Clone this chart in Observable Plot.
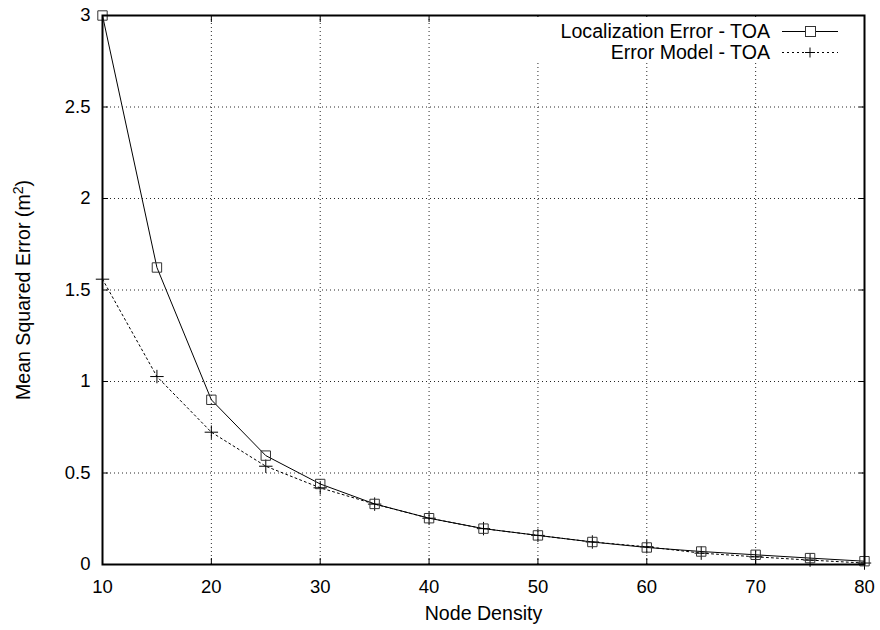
<!DOCTYPE html>
<html>
<head>
<meta charset="utf-8">
<script src="https://cdn.jsdelivr.net/npm/d3@7"></script>
<script src="https://cdn.jsdelivr.net/npm/@observablehq/plot@0.6"></script>
<style>
  html, body { margin: 0; padding: 0; background: #fff; }
  #wrap { position: relative; width: 880px; height: 630px; font-family: "Liberation Sans", Arial, Helvetica, sans-serif; }
  #legend { position: absolute; left: 480px; top: 17px; width: 383px; height: 46px; background: #fff; }
  .row { position: absolute; right: 0; height: 21px; display: flex; align-items: center; font-size: 19.6px; color: #000; }
  .row span { margin-right: 12px; white-space: nowrap; }
</style>
</head>
<body>
<div id="wrap"></div>
<script>
// Data
const density = [10, 15, 20, 25, 30, 35, 40, 45, 50, 55, 60, 65, 70, 75, 80];
const locError = [3.0, 1.623, 0.90, 0.595, 0.44, 0.331, 0.253, 0.196, 0.159, 0.123, 0.093, 0.071, 0.053, 0.035, 0.018];
const modelError = [1.559, 1.027, 0.723, 0.537, 0.419, 0.33, 0.253, 0.196, 0.159, 0.123, 0.097, 0.062, 0.042, 0.024, 0.008];
const xTicks = [10, 20, 30, 40, 50, 60, 70, 80];
const yTicks = [0, 0.5, 1, 1.5, 2, 2.5, 3];
const seriesNames = ["Localization Error - TOA", "Error Model - TOA"];
const xLabel = "Node Density";
const yLabelMain = "Mean Squared Error (m";
const yLabelSup = "2";
const yLabelEnd = ")";

const locData = density.map((d, i) => ({x: d, y: locError[i]}));
const modelData = density.map((d, i) => ({x: d, y: modelError[i]}));

const tickFont = "18.5px";
const labelFont = "19.6px";
const font = '"Liberation Sans", Arial, Helvetica, sans-serif';

const chart = Plot.plot({
  width: 880,
  height: 630,
  marginLeft: 102,
  marginRight: 16,
  marginTop: 15,
  marginBottom: 66,
  style: {fontFamily: font, fontSize: tickFont, background: "#fff", color: "#000"},
  x: {domain: [10, 80]},
  y: {domain: [0, 3]},
  marks: [
    Plot.gridX(xTicks.slice(1, -1), {stroke: "#000", strokeOpacity: 0.85, strokeDasharray: "1,3"}),
    Plot.gridY(yTicks.slice(1, -1), {stroke: "#000", strokeOpacity: 0.85, strokeDasharray: "1,3"}),
    // inward tick marks on all four sides
    Plot.axisX(xTicks, {anchor: "bottom", tickSize: -6, tickFormat: () => "", label: null}),
    Plot.axisX(xTicks, {anchor: "top", tickSize: -6, tickFormat: () => "", label: null}),
    Plot.axisY(yTicks, {anchor: "left", tickSize: -6, tickFormat: () => "", label: null}),
    Plot.axisY(yTicks, {anchor: "right", tickSize: -6, tickFormat: () => "", label: null}),
    // tick labels
    Plot.axisX(xTicks, {anchor: "bottom", tickSize: 0, tickPadding: 15, label: null, fontSize: tickFont}),
    Plot.axisY(yTicks, {anchor: "left", tickSize: 0, tickPadding: 12, label: null, fontSize: tickFont, tickFormat: d3.format("")}),
    // axis titles
    Plot.text([xLabel], {text: d => d, frameAnchor: "bottom", dy: 49, lineAnchor: "middle", fontSize: labelFont}),
    Plot.text([yLabelMain], {text: d => d, frameAnchor: "left", dx: -79, rotate: -90, textAnchor: "middle", lineAnchor: "middle", fontSize: labelFont}),
    // series
    Plot.line(modelData, {x: "x", y: "y", stroke: "#000", strokeWidth: 1, strokeDasharray: "2,3"}),
    Plot.line(locData, {x: "x", y: "y", stroke: "#000", strokeWidth: 1}),
    Plot.dot(modelData, {x: "x", y: "y", symbol: "plus", r: 4.4, stroke: "#000", strokeWidth: 1}),
    Plot.dot(locData, {x: "x", y: "y", symbol: "square", r: 5.3, stroke: "#333", strokeWidth: 1, fill: "none"}),
    Plot.frame({stroke: "#000", strokeWidth: 2})
  ]
});

// add the superscript to the y-axis title
d3.select(chart).selectAll("text").filter(function() { return this.textContent === yLabelMain; })
  .each(function() {
    const t = d3.select(this);
    t.text(null);
    t.append("tspan").text(yLabelMain);
    t.append("tspan").attr("dy", "-0.45em").attr("font-size", "0.72em").text(yLabelSup);
    t.append("tspan").attr("dy", "0.32em").text(yLabelEnd);
  });

const wrap = document.getElementById("wrap");
wrap.appendChild(chart);

// legend (top-right, inside the plot frame)
const legend = document.createElement("div");
legend.id = "legend";
const styles = [
  {dash: null, symbol: "square"},
  {dash: "2,3", symbol: "plus"}
];
seriesNames.forEach((name, i) => {
  const row = document.createElement("div");
  row.className = "row";
  row.style.top = (4 + i * 21) + "px";
  const label = document.createElement("span");
  label.textContent = name;
  row.appendChild(label);
  const svg = d3.create("svg").attr("width", 57).attr("height", 21).style("margin-right", "24px");
  svg.append("line").attr("x1", 0).attr("x2", 56).attr("y1", 10.5).attr("y2", 10.5)
    .attr("stroke", "#000").attr("stroke-width", 1).attr("stroke-dasharray", styles[i].dash);
  if (styles[i].symbol === "square") {
    svg.append("rect").attr("x", 23.5).attr("y", 5.5).attr("width", 10).attr("height", 10)
      .attr("fill", "#fff").attr("stroke", "#333");
  } else {
    svg.append("path").attr("d", "M28,5.5V15.5M23,10.5H33").attr("stroke", "#000");
  }
  row.appendChild(svg.node());
  legend.appendChild(row);
});
wrap.appendChild(legend);
</script>
</body>
</html>
